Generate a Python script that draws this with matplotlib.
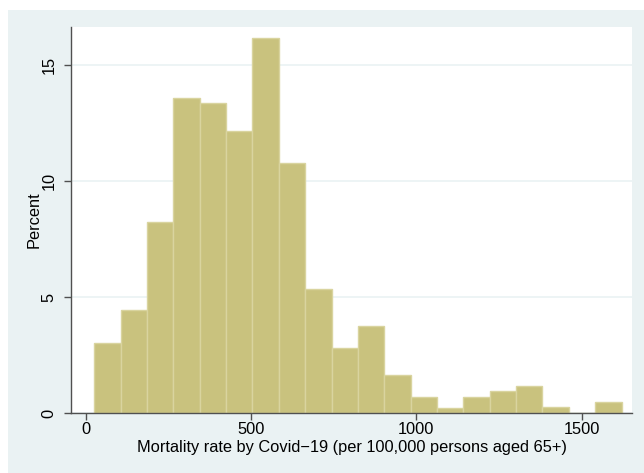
import numpy as np
import matplotlib
matplotlib.use("Agg")
import matplotlib.pyplot as plt
from matplotlib.patches import Rectangle

plt.rcParams['font.family'] = ['Liberation Sans', 'DejaVu Sans']

# histogram of mortality rate, 20 bins, heights in percent
bin_start = 25.0
bin_width = 79.8
percent = [3.03, 4.46, 8.22, 13.6, 13.38, 12.17, 16.18, 10.79, 5.36, 2.80,
           3.74, 1.62, 0.69, 0.23, 0.69, 0.94, 1.16, 0.26, 0.0, 0.46]
xticks = [0, 500, 1000, 1500]
yticks = [0, 5, 10, 15]

bg = '#EAF2F3'
bar_fill = '#C9C27E'
bar_edge = '#D9D49F'
fs = 11.8

fig = plt.figure(figsize=(6.44, 4.73), dpi=100)
fig.patch.set_facecolor('white')
fig.add_artist(Rectangle((8 / 644, 0), 1, 463 / 473, transform=fig.transFigure,
                         facecolor=bg, edgecolor='none', zorder=-10))

ax = fig.add_axes([71 / 644, 60 / 473, 561 / 644, 386 / 473])
ax.set_zorder(5)
ax.set_facecolor('white')

lefts = bin_start + bin_width * np.arange(len(percent))
ax.bar(lefts, percent, width=bin_width, align='edge', color=bar_fill,
       edgecolor=bar_edge, linewidth=1.0, zorder=3)

ax.set_xlim(-45.4, 1652.5)
ax.set_ylim(0, 16.64)
ax.set_xticks(xticks)
ax.set_yticks(yticks)
ax.set_yticklabels([str(t) for t in yticks], rotation=90, va='center')
ax.yaxis.grid(True, color=bg, linewidth=1.2, zorder=1)
ax.set_axisbelow(True)

for side in ['top', 'right']:
    ax.spines[side].set_visible(False)
for side in ['left', 'bottom']:
    ax.spines[side].set_color('#505050')
    ax.spines[side].set_linewidth(1.0)
    ax.spines[side].set_zorder(4)
ax.tick_params(axis='both', direction='out', length=4.8, width=1.0, color='#505050',
               labelsize=fs, labelcolor='black')
ax.tick_params(axis='y', pad=5.5)
ax.tick_params(axis='x', pad=1.5)

ax.set_ylabel('Percent', fontsize=fs, labelpad=0)
ax.set_xlabel('Mortality rate by Covid\u221219 (per 100,000 persons aged 65+)',
              fontsize=fs, labelpad=2.5)

fig.savefig('out.png', dpi=100, facecolor=fig.get_facecolor())
